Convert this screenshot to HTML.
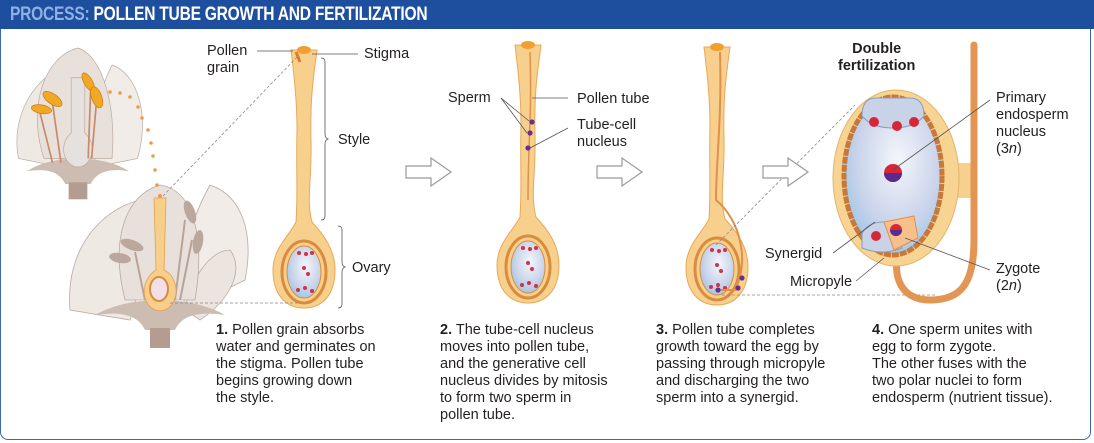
<!DOCTYPE html>
<html><head><meta charset="utf-8"><style>
html,body{margin:0;padding:0;background:#fff}
body{width:1094px;height:443px;position:relative;overflow:hidden;font-family:"Liberation Sans",Arial,sans-serif;color:#231f20}
.frame{position:absolute;left:0;top:0;width:1089px;height:438px;border:1.5px solid #3a67b0;border-radius:0 0 8px 8px;box-sizing:content-box}
.hdr{position:absolute;left:0;top:0;width:1094px;height:29px;background:#1d4f9e;}
.hdr div{position:absolute;left:10px;top:0;color:#fff;font-weight:bold;font-size:19px;line-height:29px;white-space:nowrap;transform:scaleX(0.82);transform-origin:left;letter-spacing:-0.3px}
.hdr span{color:#8fb0e2}
.lbl{position:absolute;font-size:14.5px;line-height:17px;white-space:nowrap}
.cap{position:absolute;top:322px;font-size:14.5px;line-height:17px;white-space:nowrap}
</style></head><body>
<div class="frame"></div>
<div class="hdr"><div><span>PROCESS:</span> POLLEN TUBE GROWTH AND FERTILIZATION</div></div>
<svg width="1094" height="443" style="position:absolute;left:0;top:0">
<defs>
<path id="pis" d="M-13,0 L13,0 C9,30 6,50 7,90 C8,130 2,150 8,172 C20,185 31,200 31,220 C31,245 18,258 0,258 C-18,258 -31,245 -31,220 C-31,198 -14,185 -8,172 C-6,140 -8,120 -7,80 C-7,50 -10,25 -13,0 Z"/>
<radialGradient id="ov" cx="0.55" cy="0.4" r="0.7"><stop offset="0" stop-color="#f4f6fb"/><stop offset="0.6" stop-color="#c9d3ea"/><stop offset="1" stop-color="#8ec3e6"/></radialGradient>
<g id="pistil">
<use href="#pis" fill="#f8d08e" stroke="#e9a857" stroke-width="1"/>
<ellipse cx="0" cy="222" rx="22" ry="31" fill="none" stroke="#d98c3e" stroke-width="3"/>
<ellipse cx="0" cy="222" rx="17" ry="26" fill="url(#ov)" stroke="#d98c3e" stroke-width="1"/>
<circle cx="-5" cy="203" r="2" fill="#d0324a"/><circle cx="2" cy="204" r="2" fill="#d0324a"/><circle cx="8" cy="203" r="2" fill="#d0324a"/>
<circle cx="0" cy="218" r="2" fill="#d0324a"/><circle cx="4" cy="224" r="2" fill="#d0324a"/>
<circle cx="-6" cy="240" r="2" fill="#d0324a"/><circle cx="1" cy="238" r="2" fill="#d0324a"/><circle cx="8" cy="241" r="2" fill="#d0324a"/>
<ellipse cx="0" cy="0" rx="7" ry="4" fill="#f0a030"/>
</g>
</defs>
<!-- flower 1 -->
<g transform="translate(78,150) scale(0.85)">
<path d="M-70,10 C-80,-40 -50,-90 -10,-100 C0,-60 -10,-20 -20,20 Z" fill="#efe9e4" stroke="#b9aaa0" stroke-width="0.8"/>
<path d="M70,10 C85,-40 70,-90 40,-100 C20,-60 15,-20 20,20 Z" fill="#f1ece8" stroke="#b9aaa0" stroke-width="0.8"/>
<path d="M-40,10 C-60,-50 -40,-110 0,-120 C30,-110 45,-50 40,10 Z" fill="#e8e0da" stroke="#b9aaa0" stroke-width="0.8"/>
<path d="M-60,25 C-30,5 30,5 60,25 C30,20 20,30 15,40 L-15,40 C-20,30 -30,20 -60,25Z" fill="#cdbcb2"/>
<rect x="-11" y="38" width="22" height="20" fill="#b59c90"/>
<path d="M-8,-85 L8,-85 L8,-20 C25,-5 15,20 0,20 C-15,20 -25,-5 -8,-20Z" fill="#e5e1de" stroke="#b9aaa0" stroke-width="0.8"/>
<g stroke="#c98a6a" stroke-width="2" fill="none"><path d="M-30,-55 L-20,15"/><path d="M-45,-45 L-30,15"/><path d="M15,-75 L12,10"/><path d="M22,-60 L16,10"/></g>
<g fill="#f0a825" stroke="#c97a10" stroke-width="0.8">
<ellipse cx="-30" cy="-60" rx="6" ry="13" transform="rotate(-55 -30 -60)"/>
<ellipse cx="-43" cy="-48" rx="5" ry="12" transform="rotate(-80 -43 -48)"/>
<ellipse cx="12" cy="-80" rx="5" ry="12" transform="rotate(-30 12 -80)"/>
<ellipse cx="22" cy="-62" rx="6" ry="13" transform="rotate(-20 22 -62)"/>
</g>
</g>
<!-- flower 2 -->
<g transform="translate(160,290)">
<path d="M-90,20 C-95,-40 -60,-80 -20,-90 C-10,-40 -20,0 -30,30 Z" fill="#efe9e4" stroke="#b9aaa0" stroke-width="0.8"/>
<path d="M85,-10 C95,-60 80,-95 50,-105 C25,-60 20,-20 25,20 Z" fill="#f1ece8" stroke="#b9aaa0" stroke-width="0.8"/>
<path d="M40,30 C70,10 85,-20 70,-40 C50,-40 30,-10 25,20Z" fill="#ece4de" stroke="#b9aaa0" stroke-width="0.8"/>
<path d="M-35,10 C-50,-50 -35,-95 0,-105 C35,-100 45,-50 35,10 Z" fill="#e8e0da" stroke="#b9aaa0" stroke-width="0.8"/>
<path d="M-65,25 C-30,5 30,5 65,25 C30,20 20,30 15,40 L-15,40 C-20,30 -30,20 -65,25Z" fill="#cdbcb2"/>
<rect x="-10" y="38" width="20" height="20" fill="#b59c90"/>
<g stroke="#b9a398" stroke-width="2" fill="none"><path d="M-25,-38 L-15,10"/><path d="M25,-70 L15,10"/><path d="M32,-50 L20,10"/></g>
<g fill="#bca79c"><ellipse cx="-28" cy="-45" rx="5" ry="12" transform="rotate(-70 -28 -45)"/><ellipse cx="-40" cy="-32" rx="5" ry="11" transform="rotate(-80 -40 -32)"/><ellipse cx="30" cy="-78" rx="5" ry="12" transform="rotate(-20 30 -78)"/><ellipse cx="38" cy="-48" rx="5" ry="12" transform="rotate(10 38 -48)"/></g>
<path d="M-6,-92 L6,-92 L4,-20 C15,-15 18,0 15,8 C10,25 -10,25 -15,8 C-18,-5 -12,-15 -4,-20 Z" fill="#f8cf8a" stroke="#e0a050" stroke-width="0.8"/>
<ellipse cx="-1" cy="-1" rx="9" ry="12" fill="#f3e0e6" stroke="#d98c3e" stroke-width="2"/>
</g>
<g fill="#ef9a4a"><circle cx="110" cy="92" r="1.8"/><circle cx="120" cy="93" r="1.8"/><circle cx="130" cy="97" r="1.8"/><circle cx="138" cy="107" r="1.8"/><circle cx="142" cy="118" r="1.8"/><circle cx="148" cy="130" r="1.8"/><circle cx="151" cy="143" r="1.8"/><circle cx="153" cy="156" r="1.8"/><circle cx="155" cy="170" r="1.8"/><circle cx="157" cy="185" r="1.8"/><circle cx="160" cy="196" r="2"/></g>
<!-- pistils -->
<use href="#pistil" x="304" y="50"/>
<use href="#pistil" x="528" y="45"/>
<use href="#pistil" x="717" y="47"/>
<path d="M296,52 L300,62" stroke="#e07a2a" stroke-width="3"/>
<path d="M530,52 C532,120 528,140 528,200" stroke="#e0904a" stroke-width="1.5" fill="none"/>
<circle cx="532" cy="122" r="2.6" fill="#6b2d8e"/><circle cx="530" cy="133" r="2.6" fill="#6b2d8e"/><circle cx="528" cy="148" r="2.6" fill="#6b2d8e"/>
<path d="M720,52 C722,120 716,160 716,200 C740,220 750,260 735,290 L720,290" stroke="#e0904a" stroke-width="2" fill="none"/>
<circle cx="742" cy="278" r="2.6" fill="#6b2d8e"/><circle cx="738" cy="288" r="2.6" fill="#6b2d8e"/><circle cx="718" cy="290" r="2.6" fill="#6b2d8e"/>
<!-- dashed zoom lines -->
<g stroke="#888" stroke-width="0.8" stroke-dasharray="3,2" fill="none">
<line x1="163" y1="196" x2="298" y2="56"/><line x1="170" y1="303" x2="300" y2="303"/>
<line x1="716" y1="245" x2="855" y2="105"/><line x1="722" y1="295" x2="935" y2="295"/>
</g>
<!-- label lines -->
<g stroke="#555" stroke-width="0.8" fill="none">
<line x1="257" y1="51" x2="293" y2="51"/><line x1="312" y1="54" x2="358" y2="54"/>
<path d="M321,58 q4,0 4,4 v72 q0,4 3,5 q-3,1 -3,5 v72 q0,4 -4,4"/>
<path d="M338,226 q4,0 4,4 v32 q0,4 3,5 q-3,1 -3,5 v32 q0,4 -4,4"/>
<line x1="501" y1="98" x2="529" y2="121"/><line x1="501" y1="98" x2="527" y2="133"/>
<line x1="532" y1="98" x2="568" y2="98"/><line x1="530" y1="148" x2="568" y2="128"/>
</g>
<!-- hollow arrows -->
<g fill="#fff" stroke="#9a9a9a" stroke-width="1.2">
<path d="M406,166 h25 v-8 l20,14 l-20,14 v-8 h-25 z"/>
<path d="M597,166 h25 v-8 l20,14 l-20,14 v-8 h-25 z"/>
<path d="M763,166 h25 v-8 l20,14 l-20,14 v-8 h-25 z"/>
</g>
<!-- step 4 big ovule -->
<path d="M955,163 L974,163 L974,198 L955,198Z" fill="#f8d08e"/>
<path d="M974,45 L974,240 C974,285 960,300 930,300 C900,300 893,275 898,255 L905,243" stroke="#e39553" stroke-width="7" fill="none" stroke-linecap="round"/>
<ellipse cx="896" cy="178" rx="63" ry="88" fill="#f8d492" stroke="#e3b46c"/>
<ellipse cx="893" cy="176" rx="49" ry="79" fill="url(#ov)" stroke="#c87838" stroke-width="5" stroke-dasharray="7,1"/>
<g fill="#c9d3e8" stroke="#8c9cbc"><path d="M862,116 q0,-18 14,-18 h34 q14,0 14,18 q-10,12 -31,12 q-21,0 -31,-12z"/></g>
<circle cx="874" cy="122" r="5" fill="#d82638"/><circle cx="897" cy="126" r="5" fill="#d82638"/><circle cx="914" cy="122" r="5" fill="#d82638"/>
<circle cx="893" cy="173" r="9" fill="#d82638"/><path d="M884,173 a9,9 0 0 0 18,0 z" fill="#5a2a8c"/>
<path d="M862,234 q5,-12 22,-12 l18,26 q-20,8 -40,0z" fill="#c9d3e8" stroke="#8c9cbc"/>
<circle cx="876" cy="236" r="5" fill="#d82638"/>
<path d="M884,222 l30,-6 l4,22 l-24,12z" fill="#f6c08a" stroke="#e08e4e"/>
<circle cx="896" cy="230" r="6" fill="#d82638"/><path d="M890,230 a6,6 0 0 0 12,0z" fill="#5a2a8c"/>
<g stroke="#555" stroke-width="0.8" fill="none">
<line x1="893" y1="170" x2="990" y2="100"/><line x1="833" y1="253" x2="875" y2="222"/>
<line x1="856" y1="281" x2="884" y2="258"/><line x1="905" y1="238" x2="990" y2="270"/>
</g>
</svg>
<div class="lbl" style="left:207px;top:43px">Pollen<br>grain</div>
<div class="lbl" style="left:364px;top:46px">Stigma</div>
<div class="lbl" style="left:338px;top:132px">Style</div>
<div class="lbl" style="left:352px;top:260px">Ovary</div>
<div class="lbl" style="left:448px;top:90px">Sperm</div>
<div class="lbl" style="left:577px;top:91px">Pollen tube</div>
<div class="lbl" style="left:577px;top:117px">Tube-cell<br>nucleus</div>
<div class="lbl" style="left:838px;top:41px;font-weight:bold;text-align:center">Double<br>fertilization</div>
<div class="lbl" style="left:996px;top:90px">Primary<br>endosperm<br>nucleus<br>(3<i>n</i>)</div>
<div class="lbl" style="left:765px;top:246px">Synergid</div>
<div class="lbl" style="left:790px;top:274px">Micropyle</div>
<div class="lbl" style="left:996px;top:261px">Zygote<br>(2<i>n</i>)</div>
<div class="cap" style="left:216px"><b>1.</b> Pollen grain absorbs<br>water and germinates on<br>the stigma. Pollen tube<br>begins growing down<br>the style.</div>
<div class="cap" style="left:440px"><b>2.</b> The tube-cell nucleus<br>moves into pollen tube,<br>and the generative cell<br>nucleus divides by mitosis<br>to form two sperm in<br>pollen tube.</div>
<div class="cap" style="left:656px"><b>3.</b> Pollen tube completes<br>growth toward the egg by<br>passing through micropyle<br>and discharging the two<br>sperm into a synergid.</div>
<div class="cap" style="left:872px"><b>4.</b> One sperm unites with<br>egg to form zygote.<br>The other fuses with the<br>two polar nuclei to form<br>endosperm (nutrient tissue).</div>
</body></html>
